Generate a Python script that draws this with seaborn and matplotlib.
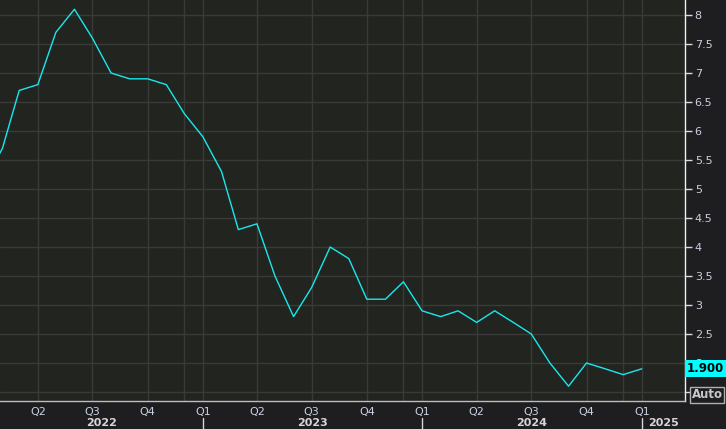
import numpy as np
import pandas as pd
import seaborn as sns
import matplotlib.pyplot as plt
import matplotlib.dates as mdates
import matplotlib.transforms as mtransforms

# monthly readings, Jan 2022 .. Jan 2025
months = pd.date_range("2022-01-01", "2025-01-01", freq="MS")
values = [5.1, 5.7, 6.7, 6.8, 7.7, 8.1, 7.6, 7.0, 6.9, 6.9, 6.8, 6.3,
          5.9, 5.3, 4.3, 4.4, 3.5, 2.8, 3.3, 4.0, 3.8, 3.1, 3.1, 3.4,
          2.9, 2.8, 2.9, 2.7, 2.9, 2.7, 2.5, 2.0, 1.6, 2.0, 1.9, 1.8,
          1.9]
y_ticks = [1.5, 2, 2.5, 3, 3.5, 4, 4.5, 5, 5.5, 6, 6.5, 7, 7.5, 8]
years = [2022, 2023, 2024, 2025]
last_label = "1.900"

df = pd.DataFrame({"date": months, "value": values})

FIG_BG = "#1e1e21"
AX_BG = "#222420"
GRID = "#3a3b38"
TXT = "#c9d0e0"
LINE = "#19e8ec"

sns.set_style("dark", {
    "axes.facecolor": AX_BG,
    "figure.facecolor": FIG_BG,
    "grid.color": GRID,
})
plt.rcParams["font.family"] = ["DejaVu Sans"]

fig = plt.figure(figsize=(7.26, 4.29), dpi=100)
fig.patch.set_facecolor(FIG_BG)
ax = fig.add_axes([0, 28 / 429, 685 / 726, 401 / 429])
ax.set_facecolor(AX_BG)

x_min = pd.Timestamp("2022-01-28")
x_max = pd.Timestamp("2025-03-14")

sns.lineplot(data=df, x="date", y="value", ax=ax, color=LINE, linewidth=1.0)

ax.set_xlim(x_min, x_max)
ax.set_ylim(1.345, 8.259)

# grid
ax.set_yticks(y_ticks)
ax.set_yticklabels(["" if t == 1.5 else f"{t:g}" for t in y_ticks])
ax.yaxis.tick_right()
ax.xaxis.set_major_locator(mdates.MonthLocator(bymonth=[1, 4, 7, 10]))
ax.xaxis.set_minor_locator(mdates.MonthLocator())
ax.xaxis.set_major_formatter(
    plt.FuncFormatter(lambda v, p: f"Q{(mdates.num2date(v).month - 1) // 3 + 1}"))
ax.grid(True, which="major", color=GRID, linewidth=1.0)
for yr in years[:-1]:
    ax.axvline(pd.Timestamp(f"{yr}-12-01"), color=GRID, linewidth=1.0, zorder=0)

ax.tick_params(axis="y", which="major", direction="out", length=5, width=1,
               colors="#d8d8d8", labelcolor=TXT, labelsize=8, pad=2)
ax.tick_params(axis="x", which="both", direction="out", length=3, width=1,
               colors="#d8d8d8", labelcolor=TXT, labelsize=8, pad=1.5)
ax.set_xlabel("")
ax.set_ylabel("")

for side in ["top", "left"]:
    ax.spines[side].set_visible(False)
ax.spines["right"].set_color("#f0f0f0")
ax.spines["bottom"].set_color("#bdbdbd")
ax.spines["right"].set_linewidth(1)
ax.spines["bottom"].set_linewidth(1)

# year labels and separators
trans = mtransforms.blended_transform_factory(ax.transData, ax.transAxes)
x0n, x1n = ax.get_xlim()
for yr in years:
    s = max(mdates.date2num(pd.Timestamp(f"{yr}-01-01")), x0n)
    e = min(mdates.date2num(pd.Timestamp(f"{yr + 1}-01-01")), x1n)
    ax.text((s + e) / 2, -0.056, str(yr), transform=trans, ha="center", va="center",
            fontsize=8, fontweight="bold", color="#d6d6d6")
    if yr > years[0]:
        xs = mdates.date2num(pd.Timestamp(f"{yr}-01-01"))
        ax.plot([xs, xs], [-0.042, -0.075], transform=trans, color="#d6d6d6",
                linewidth=1, clip_on=False)

# last value box
trans_y = mtransforms.blended_transform_factory(ax.transAxes, ax.transData)
ax.text(1.003, values[-1], last_label, transform=trans_y, ha="left", va="center",
        fontsize=8.5, fontweight="bold", color="black",
        bbox=dict(boxstyle="square,pad=0.18", facecolor="#00ffff", edgecolor="none"))

# Auto button
fig.text(707 / 726, (429 - 395) / 429, "Auto", ha="center", va="center",
         fontsize=8.5, fontweight="bold", color="#c8c8c8",
         bbox=dict(boxstyle="square,pad=0.15", facecolor=FIG_BG, edgecolor="#b0b0b0",
                   linewidth=1))

fig.savefig("out.png", dpi=100, facecolor=FIG_BG)
